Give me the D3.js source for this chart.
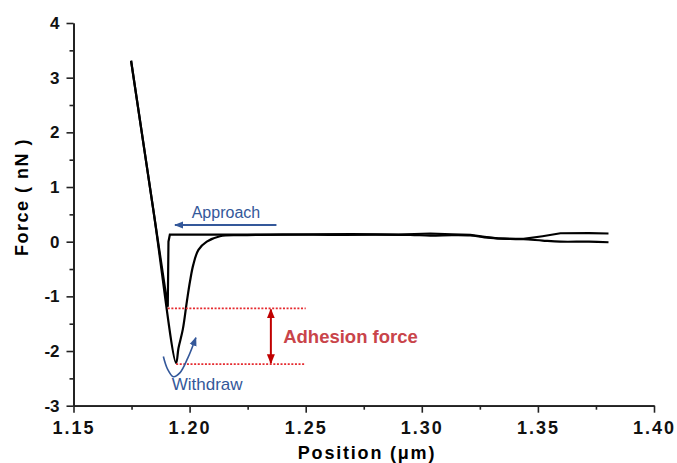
<!DOCTYPE html>
<html>
<head>
<meta charset="utf-8">
<script src="https://cdn.jsdelivr.net/npm/d3@7"></script>
<style>
  body { margin: 0; background: #fff; }
  svg { display: block; font-family: "Liberation Sans", Arial, sans-serif; }
</style>
</head>
<body>
<script>
const approachX = [1.3804, 1.372, 1.3597, 1.352, 1.3438, 1.338, 1.3326, 1.327, 1.3209, 1.313, 1.3037, 1.29, 1.27, 1.25, 1.235, 1.22, 1.205, 1.1915, 1.1909, 1.1906, 1.1748];
const approachY = [0.15, 0.155, 0.154, 0.10, 0.05, 0.05, 0.06, 0.09, 0.125, 0.135, 0.15, 0.13, 0.14, 0.135, 0.13, 0.13, 0.13, 0.13, 0.0, -1.19, 3.31];

const withdrawX = [1.1748, 1.1845, 1.1942, 1.1952, 1.1971, 1.1988, 1.2002, 1.2016, 1.2038, 1.2074, 1.2131, 1.2218, 1.24, 1.26, 1.28, 1.295, 1.3037, 1.313, 1.3209, 1.327, 1.3326, 1.338, 1.3438, 1.352, 1.3597, 1.372, 1.3804];
const withdrawY = [3.31, 0.545, -2.22, -1.95, -1.6, -1.1, -0.72, -0.42, -0.15, 0.0, 0.1, 0.12, 0.13, 0.125, 0.13, 0.125, 0.11, 0.12, 0.115, 0.08, 0.06, 0.05, 0.045, 0.02, 0.0, 0.0, -0.01];

const xTicks = [1.15, 1.20, 1.25, 1.30, 1.35, 1.40];
const xMinor = [1.175, 1.225, 1.275, 1.325, 1.375];
const yTicks = [-3, -2, -1, 0, 1, 2, 3, 4];
const yMinor = [-2.5, -1.5, -0.5, 0.5, 1.5, 2.5, 3.5];

// Anotaciones (en unidades de los datos)
const adhesionLevels = [-1.22, -2.24];
const adhesionStart = [1.1906, 1.1942];
const adhesionEnd = 1.25;
const adhesionArrowX = 1.235;
const approachArrow = [[1.2374, 0.305], [1.1937, 0.305]];
const withdrawArc = [[1.1887, -2.10], [1.1905, -2.33], [1.1930, -2.47], [1.1958, -2.40], [1.1992, -2.13], [1.2027, -1.756]];

const width = 677;
const height = 463;

const svg = d3.select("body").append("svg")
    .attr("width", width)
    .attr("height", height);

const x = d3.scaleLinear().domain([1.15, 1.40]).range([73.5, 654]);
const y = d3.scaleLinear().domain([-3, 4]).range([405.7, 23]);

const defs = svg.append("defs");
function marker(id, color, size) {
    defs.append("marker")
        .attr("id", id)
        .attr("viewBox", "0 0 10 10")
        .attr("refX", 9).attr("refY", 5)
        .attr("markerWidth", size).attr("markerHeight", size)
        .attr("markerUnits", "userSpaceOnUse")
        .attr("orient", "auto-start-reverse")
        .append("path")
        .attr("d", "M0,1 L10,5 L0,9 Z")
        .attr("fill", color);
}
marker("arrBlue", "#34589a", 9);
marker("arrRed", "#c00000", 10);

// Ejes
const xAxis = svg.append("g")
    .attr("transform", `translate(0,${y(-3)})`)
    .call(d3.axisBottom(x).tickValues(xTicks).tickFormat(d3.format(".2f")).tickSize(7).tickPadding(9).tickSizeOuter(0));
svg.append("g")
    .attr("transform", `translate(0,${y(-3)})`)
    .call(d3.axisBottom(x).tickValues(xMinor).tickFormat("").tickSize(4).tickSizeOuter(0));

const yAxis = svg.append("g")
    .attr("transform", `translate(${x(1.15)},0)`)
    .call(d3.axisLeft(y).tickValues(yTicks).tickFormat(d => String(d)).tickSize(7).tickPadding(7).tickSizeOuter(0));
svg.append("g")
    .attr("transform", `translate(${x(1.15)},0)`)
    .call(d3.axisLeft(y).tickValues(yMinor).tickFormat("").tickSize(4).tickSizeOuter(0));

svg.selectAll(".domain").attr("stroke", "#222").attr("stroke-width", 1.8);
svg.selectAll(".tick line").attr("stroke", "#222").attr("stroke-width", 1.6);

xAxis.selectAll("text")
    .attr("font-size", 18).attr("font-weight", "bold")
    .attr("letter-spacing", "2px").attr("fill", "#111");
yAxis.selectAll("text")
    .attr("font-size", 17).attr("font-weight", "bold").attr("fill", "#111");

// Títulos de ejes
svg.append("text")
    .attr("x", 367).attr("y", 459)
    .attr("text-anchor", "middle")
    .attr("font-size", 18).attr("font-weight", "bold")
    .attr("letter-spacing", "1.8px")
    .text("Position (μm)");

svg.append("text")
    .attr("transform", "translate(28,197) rotate(-90)")
    .attr("text-anchor", "middle")
    .attr("font-size", 18).attr("font-weight", "bold")
    .attr("letter-spacing", "1.5px")
    .text("Force ( nN )");

// Curvas
const lineApproach = d3.line()
    .x((d, i) => x(approachX[i]))
    .y((d, i) => y(approachY[i]));

const lineWithdraw = d3.line()
    .x((d, i) => x(withdrawX[i]))
    .y((d, i) => y(withdrawY[i]))
    .curve(d3.curveCatmullRom.alpha(0.5));

svg.append("path")
    .attr("d", lineWithdraw(withdrawX))
    .attr("fill", "none").attr("stroke", "#000").attr("stroke-width", 2.2);

svg.append("path")
    .attr("d", lineApproach(approachX))
    .attr("fill", "none").attr("stroke", "#000").attr("stroke-width", 2.2);

// Fuerza de adhesión
adhesionLevels.forEach((lv, i) => {
    svg.append("line")
        .attr("x1", x(adhesionStart[i])).attr("x2", x(adhesionEnd))
        .attr("y1", y(lv)).attr("y2", y(lv))
        .attr("stroke", "#e52a2f").attr("stroke-width", 1.6)
        .attr("stroke-dasharray", "2,1.6");
});

svg.append("line")
    .attr("x1", x(adhesionArrowX)).attr("x2", x(adhesionArrowX))
    .attr("y1", y(adhesionLevels[0]) + 1).attr("y2", y(adhesionLevels[1]) - 1)
    .attr("stroke", "#c00000").attr("stroke-width", 2)
    .attr("marker-start", "url(#arrRed)")
    .attr("marker-end", "url(#arrRed)");

svg.append("text")
    .attr("x", x(1.2403)).attr("y", y(-1.858))
    .attr("font-size", 18.5).attr("font-weight", "bold")
    .attr("fill", "#c9444a")
    .text("Adhesion force");

// Approach
svg.append("line")
    .attr("x1", x(approachArrow[0][0])).attr("y1", y(approachArrow[0][1]))
    .attr("x2", x(approachArrow[1][0])).attr("y2", y(approachArrow[1][1]))
    .attr("stroke", "#34589a").attr("stroke-width", 1.8)
    .attr("marker-end", "url(#arrBlue)");

svg.append("text")
    .attr("x", x(1.2009)).attr("y", y(0.428))
    .attr("font-size", 16).attr("fill", "#34589a")
    .text("Approach");

// Withdraw
svg.append("path")
    .attr("d", d3.line().x(d => x(d[0])).y(d => y(d[1])).curve(d3.curveCatmullRom)(withdrawArc))
    .attr("fill", "none").attr("stroke", "#34589a").attr("stroke-width", 1.6)
    .attr("marker-end", "url(#arrBlue)");

svg.append("text")
    .attr("x", x(1.1923)).attr("y", y(-2.713))
    .attr("font-size", 17).attr("fill", "#34589a")
    .text("Withdraw");
</script>
</body>
</html>
